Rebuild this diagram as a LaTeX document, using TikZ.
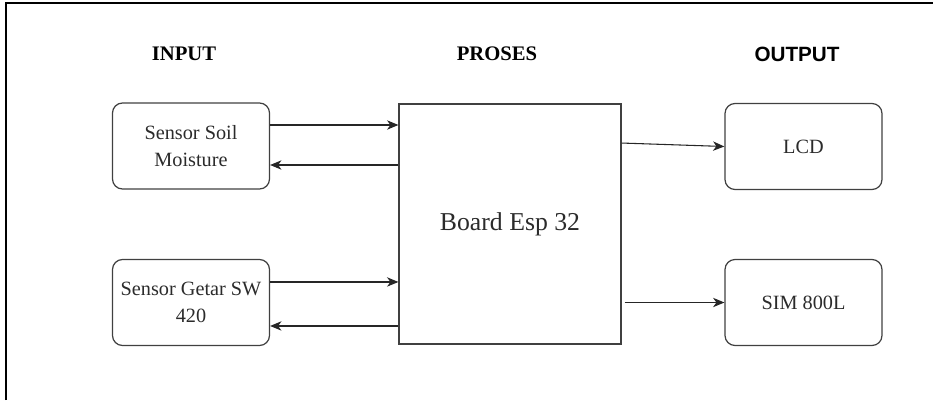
\documentclass[tikz,border=0pt]{standalone}
\usepackage{fontspec}
\setmainfont{Liberation Serif}
\newfontfamily\hurufsans{Liberation Sans}
\usetikzlibrary{arrows.meta}
\definecolor{garis}{HTML}{404040}
\definecolor{teks}{HTML}{2b2b2b}

\begin{document}
\begin{tikzpicture}[x=0.75pt, y=-0.75pt,
    kotak/.style={draw=garis, line width=0.9pt, rounded corners=7.5pt,
      minimum width=117.75pt, minimum height=64.5pt, align=center,
      text=teks, font=\fontsize{15.2}{20.25}\selectfont},
    judul/.style={font=\fontsize{15.5}{18}\selectfont\bfseries},
    panah/.style={draw=black!85, line width=0.8pt,
      -{Stealth[length=8.5pt, width=7pt, inset=2.5pt]}}]
        \useasboundingbox (0,0) rectangle (935,400);

        % Bingkai
        \draw[line width=1pt] (6,400) -- (6,3) -- (933,3);

        % Judul kolom
        \node[judul] (input) at (184,54) {INPUT};
        \node[judul] (proses) at (497,54) {PROSES};
        \node[judul, font=\hurufsans\fontsize{15.5}{18}\selectfont\bfseries] (output) at (797,54) {OUTPUT};

        % Blok input
        \node[kotak] (soil) at (191,146) {Sensor Soil\\Moisture};
        \node[kotak] (getar) at (191,302.5) {Sensor Getar SW\\420};

        % Blok proses
        \node[draw=garis, line width=0.9pt, minimum width=166.5pt, minimum height=180pt,
          text=teks, font=\fontsize{19.3}{22}\selectfont] (board) at (510,224) {\raisebox{-3pt}{Board Esp 32}};

        % Blok output
        \node[kotak] (lcd) at (803.5,146.5) {LCD};
        \node[kotak] (sim) at (803.5,302.5) {SIM 800L};

        % Panah input <-> proses
        \draw[panah] ([yshift=15.75pt]soil.east) -- ([yshift=15.75pt]soil.east -| board.west);
        \draw[panah] ([yshift=-14.25pt]soil.east -| board.west) -- ([yshift=-14.25pt]soil.east);
        \draw[panah] ([yshift=15.4pt]getar.east) -- ([yshift=15.4pt]getar.east -| board.west);
        \draw[panah] ([yshift=-17.6pt]getar.east -| board.west) -- ([yshift=-17.6pt]getar.east);

        % Panah proses -> output
        \draw[panah] ([yshift=2.6pt]board.east |- lcd.west) -- (lcd.west);
        \draw[panah] ([xshift=2.25pt]board.east |- sim.west) -- (sim.west);
    \end{tikzpicture}
\end{document}
